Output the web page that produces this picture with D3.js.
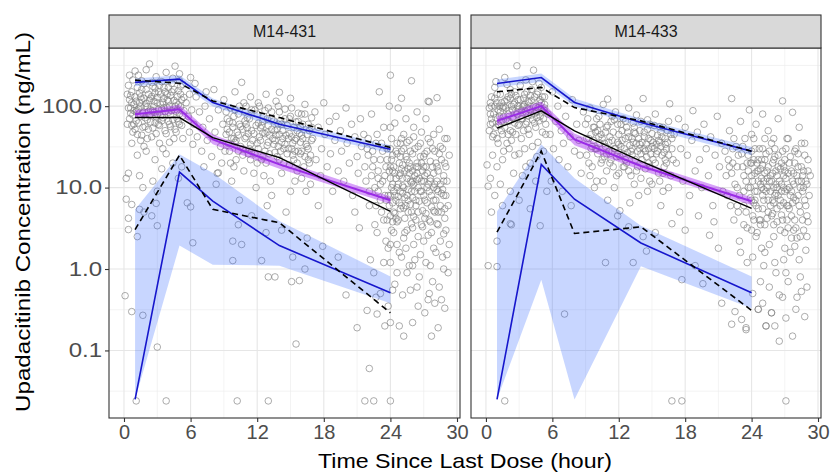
<!DOCTYPE html>
<html><head><meta charset="utf-8">
<script src="https://cdn.jsdelivr.net/npm/d3@7"></script>
<style>body{margin:0;background:#fff} text{font-family:"Liberation Sans",Arial,sans-serif}</style>
</head><body>
<svg id="c" width="834" height="474"></svg>
<script>
// ---------------- data ----------------
const studies = ["M14-431", "M14-433"];
const binTimes = [1, 5, 8, 14, 24];
const xTickValues = [0, 6, 12, 18, 24, 30];
const xMinorValues = [3, 9, 15, 21, 27];
const yTickValues = [0.1, 1, 10, 100];
const yMinorValues = [0.0316, 0.316, 3.162, 31.62, 316.2];

// M14-431 VPC summaries
const obsP95_431 = [209, 191, 116, 72.5, 31];
const obsP50_431 = [72.5, 72.5, 41, 23.3, 5.1];
const obsP05_431 = [3.05, 25, 5.4, 3.7, 0.29];
const predP95_431 = [196, 215, 111, 60, 29.5];
const predP50_431 = [79.7, 91.8, 39, 19.3, 7.0];
const predP05_431 = [0.025, 15.5, 6.8, 1.94, 0.51];
const pi95Lo_431 = [176, 192, 99, 54, 26.5], pi95Hi_431 = [218, 240, 124, 67, 33];
const pi50Lo_431 = [71, 82, 34, 17, 6.3], pi50Hi_431 = [89, 103, 45, 22, 7.8];
const pi05Lo_431 = [0.025, 1.94, 1.13, 1.1, 0.38], pi05Hi_431 = [5.4, 25.6, 15.1, 3.9, 0.81];

// M14-433 VPC summaries
const obsP95_433 = [150, 170, 96, 66, 28];
const obsP50_433 = [53.6, 87.5, 49.7, 21.2, 5.55];
const obsP05_433 = [2.83, 28, 2.73, 3.3, 0.31];
const predP95_433 = [190, 225, 111, 63, 28];
const predP50_433 = [66, 100, 39, 18.4, 6.8];
const predP05_433 = [0.025, 19.3, 7.2, 2.09, 0.51];
const pi95Lo_433 = [170, 200, 99, 56, 25], pi95Hi_433 = [212, 252, 124, 70, 31.5];
const pi50Lo_433 = [58, 88, 33, 16.3, 6.1], pi50Hi_433 = [75, 114, 46, 20.8, 7.6];
const pi05Lo_433 = [0.025, 0.74, 0.025, 1.08, 0.33], pi05Hi_433 = [5.1, 34, 13, 3.4, 0.81];

// observed concentrations [time, conc]
const obs431 = [
[0.4,180],[0.5,120],[0.6,95],[0.5,70],[0.7,150],[0.8,210],[0.9,60],[1.0,130],[1.1,85],[1.2,45],[1.3,240],[1.4,110],[1.5,75],[1.6,160],[1.7,55],[1.8,190],[1.9,100],[2.0,280],[2.1,68],[2.2,140],[2.3,330],[2.4,90],[2.5,42],[2.6,175],[2.7,115],[2.8,62],[2.9,230],[3.0,80],[3.1,150],[3.2,35],[3.3,105],[3.4,200],[3.5,72],[3.6,125],[3.7,50],[3.8,260],[3.9,95],[4.0,170],[4.1,60],[4.2,135],[4.3,88],[4.4,220],[4.5,40],[4.6,310],[4.7,112],[4.8,70],[4.9,155],[5.0,250],[5.1,98],[5.2,58],[5.3,185],[5.4,128],
[0.6,82],[0.9,105],[1.1,66],[1.3,92],[1.6,120],[1.9,72],[2.1,98],[2.4,125],[2.7,84],[3.0,110],[3.3,76],[3.6,96],[3.9,140],[4.2,78],[4.5,118],[4.8,90],[5.1,140],[0.8,48],[1.5,38],[2.2,52],[2.9,46],[3.5,30],[4.1,36],[4.7,48],[5.3,40],[1.2,25],[2.0,28],[2.8,22],[3.8,26],[4.4,20],[5.2,18],[0.7,35],[1.8,32],[3.1,60],[4.0,65],[0.5,240],[1.0,270],[1.6,205],[2.5,195],[3.2,180],[4.3,190],[5.0,205],[0.4,15],[1.4,14],[2.6,12],[3.4,17],[4.9,13],[1.7,10],[3.0,9],
[0.3,140],[0.7,110],[1.2,170],[1.5,130],[2.3,78],[2.6,88],[3.4,92],[3.7,150],[4.6,100],[5.0,80],[0.9,88],[2.0,160],[2.8,145],[4.0,115],[4.9,64],
[0.3,60],[0.4,95],[0.6,135],[0.7,58],[0.8,78],[1.0,52],[1.1,115],[1.2,88],[1.3,62],[1.4,145],[1.5,98],[1.6,44],[1.7,82],[1.8,125],[1.9,56],[2.0,108],[2.1,40],[2.2,86],[2.3,118],[2.4,64],[2.5,132],[2.6,54],[2.7,100],[2.8,166],[2.9,74],[3.0,128],[3.1,92],[3.2,58],[3.3,140],[3.4,66],[3.5,112],[3.6,170],[3.7,86],[3.8,46],[3.9,120],[4.0,84],[4.1,100],[4.2,56],[4.3,150],[4.4,68],[4.5,160],[4.6,52],[4.7,86],[4.8,130],[4.9,104],[5.0,60],[5.1,175],[5.2,120],[5.3,76],[5.4,88],
[5.6,110],[5.8,75],[5.9,48],[6.0,225],[6.1,90],[6.2,34],[6.3,60],[6.5,130],[6.6,42],[6.8,85],[7.0,28],[7.1,55],[7.3,100],[7.5,38],[7.7,70],[7.9,24],[8.1,160],[8.2,48],[8.4,15],[8.5,90],[8.7,32],[8.9,60],[5.7,6.5],[6.0,5.8],[6.2,2.1],[7.2,18],[8.3,11],[8.8,20],[5.9,140],[6.4,190],[7.4,150],
[9.0,120],[9.2,45],[9.3,70],[9.5,28],[9.6,95],[9.8,55],[9.9,18],[10.0,150],[10.1,38],[10.3,80],[10.4,60],[10.6,196],[10.7,25],[10.8,110],[11.0,42],[11.1,72],[11.3,30],[11.4,130],[11.5,50],[11.7,15],[11.8,90],[12.0,35],[12.1,62],[12.2,100],[12.4,22],[12.5,47],[12.6,75],[12.8,140],[12.9,33],[13.0,58],[13.2,12],[13.3,85],[13.4,40],[13.6,27],[13.7,115],[13.8,52],[14.0,148],[14.1,66],[14.2,36],[14.4,20],[14.5,92],[14.6,44],[14.8,30],[14.9,70],[15.0,125],[15.2,25],[15.3,55],[15.4,38],[15.6,16],[15.7,82],[15.8,46],[16.0,28],[16.1,60],[16.3,105],[16.4,34],[16.6,22],[16.7,50],[16.9,72],
[9.4,35],[10.2,48],[10.9,85],[11.6,38],[12.3,54],[12.7,28],[13.1,44],[13.5,66],[13.9,32],[14.3,50],[14.7,58],[15.1,42],[15.5,64],[15.9,36],[16.5,45],[10.5,32],[11.2,26],[12.0,20],[13.8,24],[14.9,19],[16.2,18],[9.7,12],[11.9,10],[13.3,8],[15.0,9],[16.8,11],[10.4,7],[12.9,6],[14.6,5],[16.0,13],
[9.9,40],[10.7,52],[11.4,34],[12.2,42],[12.9,48],[13.6,38],[14.4,30],[15.2,35],[15.9,26],[16.6,30],[11.0,60],[12.5,65],[14.0,45],[15.6,50],
[9.1,28],[9.3,52],[9.5,65],[9.7,40],[9.9,75],[10.1,22],[10.3,44],[10.5,56],[10.7,30],[10.9,40],[11.1,54],[11.3,70],[11.5,28],[11.7,46],[11.9,58],[12.1,30],[12.3,38],[12.5,24],[12.7,46],[12.9,70],[13.1,26],[13.3,52],[13.5,34],[13.7,44],[13.9,60],[14.1,28],[14.3,40],[14.5,34],[14.7,26],[14.9,46],[15.1,30],[15.3,22],[15.5,40],[15.7,28],[15.9,55],[16.1,40],[16.3,24],[16.5,32],[16.7,20],[16.9,38],[10.0,90],[11.0,100],[12.0,80],[13.0,95],[14.0,85],[15.0,75],[16.0,80],[9.6,20],[10.8,16],[12.6,14],[14.2,15],[15.4,12],[16.4,9],
[9.2,85],[9.8,62],[10.4,100],[10.9,66],[11.5,90],[12.1,110],[12.7,88],[13.3,70],[13.9,100],[14.5,70],[15.1,95],[15.7,65],[16.3,80],[16.9,55],[9.5,48],[10.3,28],[11.2,46],[11.8,26],[12.4,58],[13.0,36],[13.6,50],[14.2,60],[14.8,40],[15.4,28],[16.0,44],[16.6,60],[10.0,36],[11.4,22],[12.8,20],[14.0,22],[15.6,20],[16.8,25],
[17.0,40],[17.2,85],[17.3,22],[17.5,55],[17.7,14],[17.8,30],[18.0,110],[18.1,45],[18.3,18],[18.5,65],[18.6,26],[18.8,9],[19.0,38],[19.1,75],[19.3,16],[19.5,50],[19.6,28],[19.8,12],[20.0,95],[20.1,35],[20.3,20],[20.5,60],[20.6,8],[20.8,42],[21.0,24],[21.1,15],[21.3,70],[21.4,32],[19.3,1.4],[20.0,0.48],[18.5,4],[17.5,6],[20.8,5],[21.2,3.2],
[21.6,45],[21.8,12],[22.0,25],[22.1,6],[22.3,80],[22.4,18],[22.6,3.5],[22.7,35],[22.9,9],[23.0,150],[23.1,22],[23.2,5],[23.4,55],[23.5,14],[23.6,2.2],[23.7,30],[23.8,8],[23.9,100],[24.0,240],[24.0,18],[24.0,4.5],[24.0,1.2],[24.1,40],[24.1,10],[24.2,6.5],[24.2,25],[24.3,2.8],[24.4,62],[24.4,15],[24.5,7],[24.6,35],[24.6,3.8],[24.7,95],[24.7,11],[24.8,20],[24.8,1.6],[24.9,5.5],[25.0,125],[25.0,28],[25.1,8.5],[25.1,13],[25.2,45],[25.2,2.4],[25.3,16],[25.4,6],[25.4,70],[25.5,22],[25.5,3],[25.6,9.5],[25.7,38],[25.7,1.1],[25.8,12],[25.9,205],[25.9,5],[26.0,26],[26.0,7.5],[26.1,55],[26.1,2],[26.2,14],[26.3,18],[26.3,4],[26.4,85],[26.5,10],[26.5,32],[26.6,6.8],[26.7,1.5],[26.8,20],[26.8,48],[26.9,3.3],[27.0,12],[27.0,8],[27.1,26],[27.2,70],[27.2,4.8],[27.3,15],[27.4,115],[27.4,2.6],[27.5,113],[27.5,9],[27.6,36],[27.7,5.8],[27.8,18],[27.9,1.8],[28.0,11],[28.0,28],[28.1,7],[28.2,127],[28.2,3.6],[28.3,16],[28.4,52],[28.5,6],[28.5,2.2],[28.6,22],[28.7,9.5],[28.7,1.4],[28.8,14],[28.8,2.7],[28.9,4.2],[28.9,40],[29.0,8],[29.0,18],
[23.3,12],[23.6,7],[23.9,16],[24.3,9],[24.5,13],[24.9,24],[25.3,4.2],[25.6,17],[25.8,6.2],[26.2,9],[26.4,12.5],[26.7,24],[27.1,14],[27.3,6.5],[27.6,21],[27.9,10],[28.3,5],[24.1,3],[24.6,2],[25.0,1.4],[25.5,0.9],[26.0,1.1],[26.6,0.8],[27.2,1.2],[27.8,0.7],[28.4,0.6],[23.8,1.8],[22.8,2.8],[22.2,1.3],
[24.2,11],[24.7,7.8],[25.1,10.5],[25.5,8],[25.9,11.5],[26.3,6],[26.8,9],[27.4,11],[27.9,7],[24.4,4.8],[25.2,5.6],[26.1,4.4],[26.9,5.2],[27.6,3.8],[28.2,9.5],[24.9,15],[25.7,20],[26.5,18],[22.6,10],[23.1,7],
[21.7,18],[21.9,30],[22.1,9],[22.3,14],[22.5,22],[22.7,6],[22.9,16],[23.1,11],[23.3,28],[23.5,8],[23.7,4],[23.9,6],[24.0,8],[24.0,13],[24.0,30],[24.0,2],[24.1,22],[24.2,16],[24.3,5],[24.4,8],[24.5,28],[24.6,10],[24.7,4],[24.8,14],[24.9,9],[25.0,6],[25.0,40],[25.1,19],[25.2,10],[25.3,7.5],[25.4,24],[25.5,13],[25.6,5],[25.7,15],[25.8,28],[25.9,9],[26.0,16],[26.0,3.2],[26.1,11],[26.2,30],[26.3,7],[26.4,20],[26.5,5],[26.6,13],[26.7,9],[26.8,3.5],[26.9,16],[27.0,24],[27.1,7],[27.2,18],[27.3,10],[27.4,40],[27.5,4],[27.6,13],[27.7,8],[27.8,30],[27.9,15],[28.0,5],[28.1,20],[28.2,12],[28.3,9],[28.4,26],[28.5,11],[28.6,5],[28.7,30],[28.8,8],[28.9,20],[29.0,3],[29.1,12],[29.2,6],[29.3,25],[29.1,1.5],[23.4,1.2],[24.6,0.9],[25.4,1.8],[26.2,1.3],[27.0,2.2],[27.6,1.1],[28.1,1.6],[28.8,1.0],[29.2,0.9],[24.2,0.55],[25.1,0.48],[26.4,0.6],[27.5,0.5],[28.0,0.38],[28.9,0.33],[22.7,0.45],[23.8,0.35],
[22.0,40],[22.4,28],[22.8,45],[23.2,35],[23.6,18],[24.0,55],[24.3,18],[24.6,26],[24.9,35],[25.2,30],[25.5,36],[25.8,18],[26.1,42],[26.4,15],[26.7,35],[27.0,18],[27.3,28],[27.6,12],[27.9,45],[28.2,18],[28.5,32],[28.8,12],[29.1,40],[24.2,3.8],[24.8,6.5],[25.3,2.8],[25.9,3.6],[26.5,2.5],[27.1,4.2],[27.7,2.8],[28.3,3.5],[28.9,5.5],[29.3,2],[23.4,4],[22.9,13],[23.7,22],[24.5,4.2],[25.6,7],[26.8,12],[27.9,5.2],[28.6,8.5],[26.0,12],[25.0,17],
[21.9,0.31],[22.8,0.28],[23.5,0.2],[24.0,0.22],[24.8,0.2],[25.2,0.15],[26.0,0.22],[26.5,0.35],[27.1,0.29],[27.4,0.42],[27.7,0.15],[28.3,0.19],[28.6,0.42],[23.1,0.5],[25.8,0.55],[24.4,0.65],[22.5,0.9],[21.0,0.19],[22.1,0.06],
[0.1,0.47],[0.7,0.3],[1.7,0.27],[3.0,0.11],[0.2,7.2],[0.4,4.2],[0.4,3.05],[1.2,2.5],[3.0,3.4],[1.8,5.0],[2.5,4.5],[1.4,5.4],[2.9,6.4],[0.2,13],[0.7,6.2],[9.8,2.2],[9.8,1.27],[10.6,2.0],[12.4,1.27],[13.0,0.8],[13.6,0.8],[15.1,0.7],[15.8,0.72],[15.5,0.12],[15.2,1.4],[16.3,1.0],[8.5,15.2],[10.3,3.5],[11.5,4.5],[12.8,2.8],[14.2,3],[16.5,2.4],[17.9,1.9],
[1.1,0.024],[3.8,0.024],[10.2,0.024],[13.0,0.024],[21.7,0.024],[22.5,0.024],[24.0,0.024]
];

const obs433 = [
[0.3,95],[0.4,60],[0.5,130],[0.6,42],[0.7,80],[0.8,170],[0.9,55],[1.0,110],[1.1,35],[1.2,75],[1.3,140],[1.4,50],[1.5,95],[1.6,28],[1.7,225],[1.8,68],[1.9,120],[2.0,45],[2.1,88],[2.2,160],[2.3,38],[2.4,72],[2.5,105],[2.6,25],[2.7,135],[2.8,313],[2.9,58],[3.0,92],[3.1,180],[3.2,40],[3.3,70],[3.4,125],[3.5,30],[3.6,85],[3.7,150],[3.8,52],[3.9,110],[4.0,20],[4.1,78],[4.2,200],[4.3,277],[4.4,62],[4.5,98],[4.6,140],[4.7,36],[4.8,115],[4.9,75],[5.0,170],[5.1,48],[5.2,90],[5.3,130],[5.4,60],
[0.5,70],[0.8,100],[1.1,90],[1.4,65],[1.7,115],[2.0,80],[2.3,100],[2.6,62],[2.9,120],[3.2,88],[3.5,105],[3.8,76],[4.1,118],[4.4,82],[4.7,95],[5.0,110],[0.6,25],[1.0,18],[1.5,22],[2.1,30],[2.5,15],[3.0,26],[3.6,18],[4.2,32],[4.6,24],[5.2,28],[0.9,200],[1.9,185],[2.6,150],[3.6,210],[4.8,190],[0.4,13],[1.3,11],[2.2,9],[3.3,14],[4.5,12],
[0.4,110],[1.0,140],[1.6,100],[2.2,125],[2.8,85],[3.4,100],[4.0,135],[4.6,72],[5.3,95],[1.2,58],[2.4,48],[3.7,64],
[0.3,50],[0.4,80],[0.5,100],[0.6,62],[0.7,45],[0.8,125],[0.9,72],[1.0,40],[1.1,60],[1.2,100],[1.3,85],[1.4,110],[1.5,45],[1.6,75],[1.7,55],[1.8,95],[1.9,35],[2.0,130],[2.1,65],[2.2,50],[2.3,140],[2.4,90],[2.5,70],[2.6,110],[2.7,45],[2.8,80],[2.9,100],[3.0,60],[3.1,120],[3.2,70],[3.3,98],[3.4,50],[3.5,140],[3.6,60],[3.7,95],[3.8,115],[3.9,45],[4.0,90],[4.1,160],[4.2,68],[4.3,100],[4.4,130],[4.5,55],[4.6,85],[4.7,150],[4.8,66],[4.9,120],[5.0,85],[5.1,130],[5.2,70],[5.3,105],[5.4,45],
[5.6,80],[5.8,45],[6.0,150],[6.1,30],[6.3,65],[6.5,100],[6.6,22],[6.8,50],[7.0,35],[7.2,75],[7.4,18],[7.6,42],[7.8,120],[8.0,28],[8.2,60],[8.4,38],[8.6,15],[8.8,85],[5.9,12],[6.9,9],[7.7,6],[8.5,25],
[9.0,60],[9.1,25],[9.3,40],[9.4,95],[9.6,18],[9.7,55],[9.9,30],[10.0,12],[10.2,75],[10.3,35],[10.5,22],[10.6,105],[10.8,48],[10.9,16],[11.0,122],[11.1,28],[11.3,65],[11.4,38],[11.6,10],[11.7,85],[11.8,24],[12.0,45],[12.1,5.2],[12.2,32],[12.4,70],[12.5,18],[12.7,55],[12.8,27],[12.9,95],[13.1,14],[13.2,40],[13.3,62],[13.5,22],[13.6,35],[13.8,8],[13.9,50],[14.0,26],[14.2,124],[14.3,42],[14.4,17],[14.6,68],[14.7,30],[14.8,12],[15.0,46],[15.1,22],[15.3,80],[15.4,34],[15.6,15],[15.7,56],[15.9,25],[16.0,9],[16.2,40],[16.3,20],[16.5,65],[16.6,107],[16.8,30],
[9.5,45],[10.1,50],[10.7,35],[11.2,42],[11.9,36],[12.3,50],[12.6,40],[13.0,33],[13.4,48],[13.7,28],[14.1,36],[14.5,24],[14.9,38],[15.2,30],[15.5,44],[15.8,32],[16.1,27],[16.4,36],[10.4,20],[11.5,18],[12.9,16],[14.0,13],[15.0,11],[16.7,14],[11.0,7],[13.0,6.5],[15.8,6],[9.8,10],
[10.0,30],[10.9,26],[11.6,30],[12.4,26],[13.2,25],[13.9,34],[14.7,20],[15.4,26],[16.2,22],[12.0,15],[14.3,30],
[9.1,40],[9.3,20],[9.5,30],[9.7,38],[9.9,48],[10.1,26],[10.3,60],[10.5,40],[10.7,24],[10.9,55],[11.1,36],[11.3,22],[11.5,48],[11.7,30],[11.9,60],[12.1,24],[12.3,38],[12.5,30],[12.7,20],[12.9,42],[13.1,28],[13.3,36],[13.5,46],[13.7,18],[13.9,30],[14.1,22],[14.3,48],[14.5,34],[14.7,40],[14.9,26],[15.1,36],[15.3,20],[15.5,28],[15.7,36],[15.9,42],[16.1,18],[16.3,30],[16.5,25],[16.7,45],[16.9,22],[10.0,70],[11.4,75],[12.6,65],[13.6,78],[14.8,60],[16.0,55],[9.4,14],[10.6,12],[11.8,14],[13.4,11],[14.6,9],[15.7,12],[16.5,10],
[9.2,70],[9.8,55],[10.4,45],[11.0,58],[11.6,68],[12.2,60],[12.8,48],[13.4,55],[14.0,65],[14.6,52],[15.2,58],[15.8,48],[16.4,50],[9.6,32],[10.2,42],[10.8,32],[11.4,28],[12.0,34],[12.6,22],[13.2,30],[13.8,40],[14.4,28],[15.0,32],[15.6,38],[16.2,34],[16.8,40],[11.2,20],[12.4,18],[13.6,16],[14.8,18],[16.0,15],
[10.8,1.2],[13.3,1.2],[14.5,1.66],[14.2,2.5],[12.9,3.3],[11.9,4.5],[15.3,2.8],[16.8,3.6],
[17.0,45],[17.2,20],[17.4,70],[17.6,30],[17.8,12],[18.0,55],[18.2,25],[18.4,8],[18.6,38],[18.7,88],[18.9,16],[19.1,48],[19.3,22],[19.5,10],[19.7,60],[19.9,30],[20.1,14],[20.3,42],[20.5,6],[20.7,25],[20.9,75],[21.1,18],[21.3,35],[21.4,9],[17.7,0.74],[18.9,1.1],[19.6,0.66],[21.3,0.38],[18.0,3],[19.2,4.5],[20.2,2.6],[21.0,1.8],[20.6,3.8],[17.5,5],
[21.6,28],[21.8,8],[22.0,50],[22.2,124],[22.2,15],[22.4,4],[22.5,0.3],[22.6,32],[22.7,10],[22.9,2.2],[23.0,65],[23.1,0.24],[23.2,18],[23.3,6],[23.4,40],[23.5,0.18],[23.5,12],[23.6,3.2],[23.7,25],[23.8,90],[23.9,7.5],[24.0,14],[24.0,45],[24.1,4.5],[24.1,1.4],[24.2,22],[24.3,9],[24.4,60],[24.4,2.5],[24.5,16],[24.6,0.32],[24.6,5.5],[24.7,30],[24.8,11],[24.9,1.8],[25.0,80],[25.0,19],[25.1,7],[25.2,3.5],[25.3,0.2],[25.3,26],[25.4,13],[25.5,50],[25.5,5],[25.6,2],[25.7,9],[25.8,0.29],[25.8,35],[25.9,15],[26.0,6.5],[26.1,1.2],[26.1,24],[26.2,11],[26.3,3.8],[26.4,70],[26.4,8],[26.5,0.48],[26.6,17],[26.7,4.6],[26.8,116],[26.8,28],[26.9,10],[27.0,2.8],[27.1,13],[27.1,0.9],[27.2,40],[27.3,6],[27.4,20],[27.5,1.6],[27.6,9],[27.7,84],[27.7,0.15],[27.8,15],[27.9,4],[28.0,30],[28.0,7],[28.1,2.4],[28.2,12],[28.3,55],[28.4,5],[28.5,0.53],[28.5,18],[28.6,9],[28.7,3],[28.8,0.26],[28.8,25],[28.9,6],[29.0,11],
[22.3,20],[22.8,5],[23.3,9],[23.7,16],[24.2,6.5],[24.6,12],[25.0,8],[25.4,10],[25.9,7],[26.3,14],[26.7,9],[27.0,16],[27.4,5.5],[27.8,11],[28.2,8],[28.6,14],[24.0,3],[25.1,1.1],[26.0,2.5],[26.9,1.3],[27.9,1.9],[28.4,0.8],[23.0,1.6],[24.8,0.7],[26.1,0.2],[26.5,0.13],[25.3,0.2],[28.1,0.45],[22.2,0.21],[23.5,0.19],[24.6,0.32],[25.8,0.29],[27.1,0.25],
[24.3,7],[24.9,10],[25.6,12],[26.2,8.5],[26.6,6],[27.2,9.5],[27.7,6.5],[24.5,20],[25.2,15],[26.0,22],[26.9,18],[24.8,4],[25.9,4.8],[27.3,3.2],
[21.7,14],[21.9,22],[22.1,6],[22.3,30],[22.5,11],[22.7,18],[22.9,8],[23.1,26],[23.3,14],[23.5,5],[23.7,10],[23.9,20],[24.0,7],[24.0,28],[24.1,12],[24.2,40],[24.3,15],[24.4,6],[24.5,9],[24.6,22],[24.7,4],[24.8,17],[24.9,13],[25.0,30],[25.0,5.5],[25.1,12],[25.2,22],[25.3,9],[25.4,16],[25.5,7],[25.6,28],[25.7,14],[25.8,4.5],[25.9,20],[26.0,10],[26.0,40],[26.1,8],[26.2,16],[26.3,5.5],[26.4,25],[26.5,12],[26.6,7],[26.7,20],[26.8,4],[26.9,14],[27.0,9],[27.1,30],[27.2,6],[27.3,15],[27.4,10],[27.5,24],[27.6,4.5],[27.7,12],[27.8,7.5],[27.9,20],[28.0,3.2],[28.1,14],[28.2,26],[28.3,6],[28.4,10],[28.5,35],[28.6,4],[28.7,16],[28.8,7],[28.9,12],[29.0,2.5],[29.1,22],[29.2,8],[29.3,14],[23.6,1.2],[24.5,2.8],[25.2,1.6],[26.2,0.9],[27.0,1.8],[27.6,2.4],[28.3,1.3],[28.9,1.7],[29.1,3.8],[24.1,0.5],[25.0,0.38],[25.6,0.6],[26.8,0.45],[27.3,0.7],[28.0,0.32],[29.0,0.6],
[22.0,18],[22.4,40],[22.8,25],[23.2,32],[23.6,20],[24.0,20],[24.3,30],[24.6,16],[24.9,22],[25.2,40],[25.5,18],[25.8,12],[26.1,30],[26.4,18],[26.7,11],[27.0,22],[27.3,40],[27.6,16],[27.9,28],[28.2,18],[28.5,12],[28.8,35],[29.1,16],[24.2,4],[24.8,3.5],[25.4,4.2],[26.0,3.5],[26.6,3],[27.2,4],[27.8,3],[28.4,2.5],[29.0,4.5],[23.3,3.5],[22.7,6],[23.9,10],[25.1,9.5],[26.3,10],[27.5,8],[28.7,10],[25.7,6],[26.9,6.5],
[0.1,19],[0.2,10.4],[1.0,2.2],[0.2,1.1],[1.0,1.07],[2.3,3.5],[4.9,3.4],[2.2,3.6],[7.1,0.28],[0.5,5],[1.5,6],[0.8,8],[3.0,7],[4.0,5.5],[5.5,9],
[1.7,0.024],[16.8,0.024],[17.7,0.024],[27.1,0.024]
];

// ---------------- layout ----------------
const panels = [
  {name: studies[0], x0: 109, x1: 460, obs: obs431,
   oP95: obsP95_431, oP50: obsP50_431, oP05: obsP05_431,
   pP95: predP95_431, pP50: predP50_431, pP05: predP05_431,
   b95: [pi95Lo_431, pi95Hi_431], b50: [pi50Lo_431, pi50Hi_431], b05: [pi05Lo_431, pi05Hi_431]},
  {name: studies[1], x0: 471, x1: 821, obs: obs433,
   oP95: obsP95_433, oP50: obsP50_433, oP05: obsP05_433,
   pP95: predP95_433, pP50: predP50_433, pP05: predP05_433,
   b95: [pi95Lo_433, pi95Hi_433], b50: [pi50Lo_433, pi50Hi_433], b05: [pi05Lo_433, pi05Hi_433]}
];
const stripTop = 15, panelTop = 48, panelBottom = 418;
const svg = d3.select("#c");
const y = d3.scaleLog().domain([0.0148, 518]).range([panelBottom, panelTop]);
const blue = "#1616cc", bandBlue = "#3366ff", purple = "#9a2be6";

panels.forEach((p, i) => {
  const x = d3.scaleLinear().domain([-1.35, 30.27]).range([p.x0, p.x1]);
  const g = svg.append("g");
  const clipId = "clip" + i;
  svg.append("clipPath").attr("id", clipId).append("rect")
    .attr("x", p.x0).attr("y", panelTop).attr("width", p.x1 - p.x0).attr("height", panelBottom - panelTop);
  g.append("rect").attr("x", p.x0).attr("y", panelTop).attr("width", p.x1 - p.x0)
    .attr("height", panelBottom - panelTop).attr("fill", "#fff");
  const grid = g.append("g");
  grid.selectAll(".ymin").data(yMinorValues).join("line")
    .attr("x1", p.x0).attr("x2", p.x1).attr("y1", d => y(d)).attr("y2", d => y(d))
    .attr("stroke", "#ebebeb").attr("stroke-width", 0.6);
  grid.selectAll(".xmin").data(xMinorValues).join("line")
    .attr("y1", panelTop).attr("y2", panelBottom).attr("x1", d => x(d)).attr("x2", d => x(d))
    .attr("stroke", "#ebebeb").attr("stroke-width", 0.6);
  grid.selectAll(".ymaj").data(yTickValues).join("line")
    .attr("x1", p.x0).attr("x2", p.x1).attr("y1", d => y(d)).attr("y2", d => y(d))
    .attr("stroke", "#e6e6e6").attr("stroke-width", 1.1);
  grid.selectAll(".xmaj").data(xTickValues).join("line")
    .attr("y1", panelTop).attr("y2", panelBottom).attr("x1", d => x(d)).attr("x2", d => x(d))
    .attr("stroke", "#e6e6e6").attr("stroke-width", 1.1);

  const plot = g.append("g").attr("clip-path", `url(#${clipId})`);
  plot.append("g").selectAll("circle").data(p.obs).join("circle")
    .attr("cx", d => x(d[0])).attr("cy", d => y(d[1])).attr("r", 3.3)
    .attr("fill", "none").attr("stroke", "#808080").attr("stroke-opacity", 0.65).attr("stroke-width", 1);

  const idx = d3.range(binTimes.length);
  const area = (lo, hi) => d3.area().x(j => x(binTimes[j])).y0(j => y(lo[j])).y1(j => y(hi[j]))(idx);
  const line = arr => d3.line().x(j => x(binTimes[j])).y(j => y(arr[j]))(idx);

  plot.append("path").attr("d", area(p.b05[0], p.b05[1])).attr("fill", bandBlue).attr("fill-opacity", 0.27);
  plot.append("path").attr("d", area(p.b95[0], p.b95[1])).attr("fill", bandBlue).attr("fill-opacity", 0.27);
  plot.append("path").attr("d", area(p.b50[0], p.b50[1])).attr("fill", "#a020f0").attr("fill-opacity", 0.42);

  plot.append("path").attr("d", line(p.pP95)).attr("fill", "none").attr("stroke", blue).attr("stroke-width", 1.6);
  plot.append("path").attr("d", line(p.pP05)).attr("fill", "none").attr("stroke", blue).attr("stroke-width", 1.6);
  plot.append("path").attr("d", line(p.pP50)).attr("fill", "none").attr("stroke", purple).attr("stroke-width", 2);
  plot.append("path").attr("d", line(p.oP50)).attr("fill", "none").attr("stroke", "#000").attr("stroke-width", 1.4);
  plot.append("path").attr("d", line(p.oP95)).attr("fill", "none").attr("stroke", "#000").attr("stroke-width", 1.6).attr("stroke-dasharray", "6,4");
  plot.append("path").attr("d", line(p.oP05)).attr("fill", "none").attr("stroke", "#000").attr("stroke-width", 1.6).attr("stroke-dasharray", "6,4");

  g.append("rect").attr("x", p.x0).attr("y", panelTop).attr("width", p.x1 - p.x0)
    .attr("height", panelBottom - panelTop).attr("fill", "none").attr("stroke", "#333").attr("stroke-width", 1.1);
  g.append("rect").attr("x", p.x0).attr("y", stripTop).attr("width", p.x1 - p.x0)
    .attr("height", panelTop - stripTop).attr("fill", "#d9d9d9").attr("stroke", "#333").attr("stroke-width", 1.1);
  g.append("text").attr("x", (p.x0 + p.x1) / 2).attr("y", (stripTop + panelTop) / 2 + 5.5)
    .attr("text-anchor", "middle").attr("font-size", 16).attr("fill", "#1a1a1a").text(p.name);

  const xa = g.append("g").attr("transform", `translate(0,${panelBottom})`)
    .call(d3.axisBottom(x).tickValues(xTickValues).tickSize(4).tickPadding(3).tickFormat(d3.format("d")));
  xa.select(".domain").remove();
  xa.selectAll("line").attr("stroke", "#333").attr("stroke-width", 1.1);
  xa.selectAll("text").attr("font-size", 20).attr("fill", "#4d4d4d").attr("font-family", "Liberation Sans, Arial, sans-serif");

  if (i === 0) {
    const ya = g.append("g").attr("transform", `translate(${p.x0},0)`)
      .call(d3.axisLeft(y).tickValues(yTickValues).tickSize(4).tickPadding(3).tickFormat(d3.format(".1f")));
    ya.select(".domain").remove();
    ya.selectAll("line").attr("stroke", "#333").attr("stroke-width", 1.1);
    ya.selectAll("text").attr("font-size", 20).attr("fill", "#4d4d4d").attr("font-family", "Liberation Sans, Arial, sans-serif")
      .each(function() {
        const w = this.getComputedTextLength();
        d3.select(this).attr("textLength", w * 1.2).attr("lengthAdjust", "spacingAndGlyphs");
      });
  }
});

svg.append("text").attr("x", 465).attr("y", 468).attr("text-anchor", "middle")
  .attr("font-size", 21).attr("fill", "#000")
  .attr("textLength", 294).attr("lengthAdjust", "spacingAndGlyphs")
  .text("Time Since Last Dose (hour)");
svg.append("text").attr("transform", "translate(30,222) rotate(-90)").attr("text-anchor", "middle")
  .attr("font-size", 21).attr("fill", "#000")
  .attr("textLength", 380).attr("lengthAdjust", "spacingAndGlyphs")
  .text("Upadacitinib Concentration (ng/mL)");
</script>
</body></html>
